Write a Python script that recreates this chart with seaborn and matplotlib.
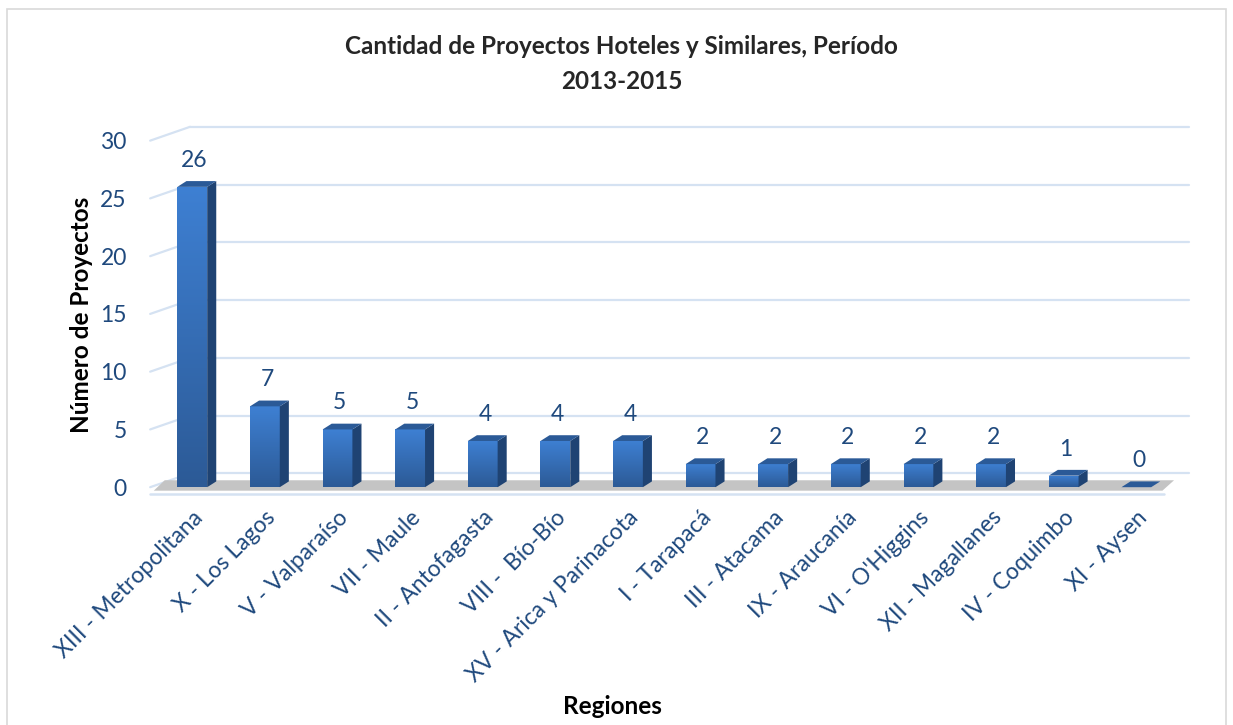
import numpy as np
import pandas as pd
import matplotlib
matplotlib.use("Agg")
import matplotlib.pyplot as plt
from matplotlib.patches import Polygon, Rectangle
from matplotlib.colors import LinearSegmentedColormap
import seaborn as sns

# data
regiones = ["XIII - Metropolitana", "X - Los Lagos", "V - Valparaíso", "VII - Maule",
            "II - Antofagasta", "VIII -  Bío-Bío", "XV - Arica y Parinacota",
            "I - Tarapacá", "III - Atacama", "IX - Araucanía", "VI - O'Higgins",
            "XII - Magallanes", "IV - Coquimbo", "XI - Aysen"]
proyectos = [26, 7, 5, 5, 4, 4, 4, 2, 2, 2, 2, 2, 1, 0]
yticks = [0, 5, 10, 15, 20, 25, 30]

df = pd.DataFrame({"Regiones": regiones, "Proyectos": proyectos})

sns.set_style("white")
plt.rcParams["font.family"] = ["Lato", "DejaVu Sans"]

txt = "#1F497D"
grid = "#D5E2F2"

fig = plt.figure(figsize=(12.33, 7.25), dpi=100)
ax = fig.add_axes([0.1265, 0.328, 0.8245, 0.478])

sns.barplot(data=df, x="Regiones", y="Proyectos", order=regiones, color="#3A76C4",
            width=0.41, ax=ax, zorder=3)

ax.set_xlim(-0.5, len(regiones) - 0.5)
ax.set_ylim(0, 30)
ax.set_yticks(yticks)
sns.despine(ax=ax, left=True, bottom=True)

# back wall gridlines + left wall diagonals (fake 3D)
wx, wy = 0.55, 1.2
x_left = -0.58
x_right = 13.72
for v in yticks:
    ax.plot([x_left + wx, x_right], [v + wy, v + wy], color=grid, lw=1.6,
            clip_on=False, zorder=0)
    ax.plot([x_left, x_left + wx], [v, v + wy], color=grid, lw=1.6,
            clip_on=False, zorder=0)

# floor slab with shadow
floor = Polygon([[x_left + 0.05, -0.3], [13.36, -0.3], [13.52, 0.6], [x_left + 0.2, 0.6]],
                closed=True, facecolor="#C4C4C4", edgecolor="none", clip_on=False, zorder=1)
ax.add_patch(floor)
ax.plot([x_left, 13.38], [-0.6, -0.6], color=grid, lw=1.8, clip_on=False, zorder=1)

# bars: gradient front, darker side and top faces
cmap = LinearSegmentedColormap.from_list("bar", ["#2C5A96", "#3E80D3"])
grad = np.linspace(0, 1, 256).reshape(-1, 1)
dx, dy = 0.125, 0.5
for p in ax.patches[:len(proyectos)]:
    x0 = p.get_x()
    w = p.get_width()
    h = p.get_height()
    if h > 0:
        im = ax.imshow(grad, extent=[x0, x0 + w, 0, h], origin="lower", aspect="auto",
                       cmap=cmap, zorder=3)
        im.set_clip_path(p)
        p.set_edgecolor("none")
        side = Polygon([[x0 + w, 0], [x0 + w + dx, dy], [x0 + w + dx, h + dy], [x0 + w, h]],
                       closed=True, facecolor="#1F4373", edgecolor="none", zorder=3,
                       clip_on=False)
        ax.add_patch(side)
    top = Polygon([[x0, h], [x0 + dx, h + dy], [x0 + w + dx, h + dy], [x0 + w, h]],
                  closed=True, facecolor="#2B5A97", edgecolor="none", zorder=4,
                  clip_on=False)
    ax.add_patch(top)
    ax.text(x0 + w / 2 + 0.03, h + 2.3, f"{int(h)}", ha="center", va="center",
            fontsize=16.5, color=txt, clip_on=False)

ax.set_aspect("auto")
ax.set_xlim(-0.5, len(regiones) - 0.5)
ax.set_ylim(0, 30)

ax.tick_params(axis="y", length=0, pad=21, labelsize=16.5, labelcolor=txt)
ax.tick_params(axis="x", length=0, pad=14, labelsize=16.5, labelcolor=txt)
ax.set_xticks(range(len(regiones)))
ax.set_xticklabels(regiones, rotation=45, ha="right", rotation_mode="anchor")

ax.set_ylabel("Número de Proyectos", fontsize=17.5, fontweight="bold", color="black")
ax.yaxis.set_label_coords(-0.062, 0.497)
ax.set_xlabel("Regiones", fontsize=17.5, fontweight="bold", color="black")
ax.xaxis.set_label_coords(0.449, -0.60)

fig.suptitle("Cantidad de Proyectos Hoteles y Similares, Período\n2013-2015",
             x=0.504, y=0.952, fontsize=17.5, fontweight="bold", linespacing=1.62)

# chart border
fig.patches.append(Rectangle((0.006, -0.01), 0.988, 0.998, transform=fig.transFigure,
                             fill=False, edgecolor="#D9D9D9", lw=1.2))

fig.savefig("out.png", dpi=100)
